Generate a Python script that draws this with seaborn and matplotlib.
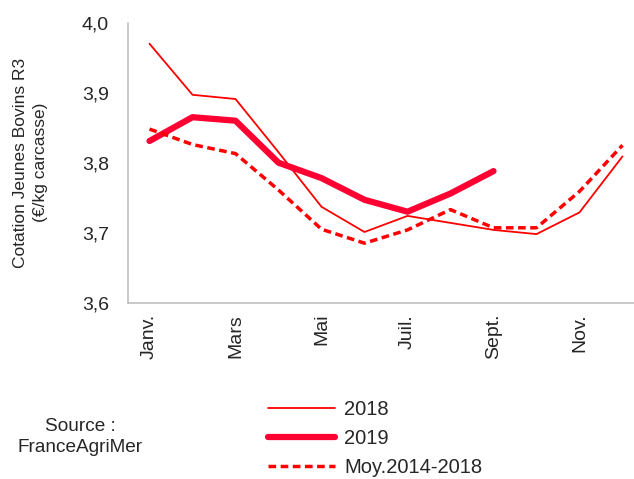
import pandas as pd
import matplotlib
matplotlib.use("Agg")
import matplotlib.pyplot as plt
import seaborn as sns
from matplotlib.ticker import FuncFormatter, FixedLocator
from matplotlib.lines import Line2D

months = ["Janv.", "Févr.", "Mars", "Avr.", "Mai", "Juin",
          "Juil.", "Août", "Sept.", "Oct.", "Nov.", "Déc."]
shown_labels = ["Janv.", "Mars", "Mai", "Juil.", "Sept.", "Nov."]

prix_2018 = [3.970, 3.897, 3.891, 3.815, 3.737, 3.701,
             3.724, 3.714, 3.704, 3.698, 3.729, 3.809]
prix_2019 = [3.831, 3.865, 3.860, 3.800, 3.778, 3.747,
             3.730, 3.756, 3.788]
moy_2014_2018 = [3.848, 3.826, 3.813, 3.761, 3.705, 3.685,
                 3.704, 3.733, 3.707, 3.707, 3.759, 3.825]

sns.set_style("white")
plt.rcParams["font.family"] = ["Liberation Sans", "DejaVu Sans"]

fig = plt.figure(figsize=(6.34, 4.79), dpi=100)
ax = fig.add_axes([128 / 634, 1 - 302.7 / 479, 516 / 634, 280 / 479])

df18 = pd.DataFrame({"x": range(len(prix_2018)), "y": prix_2018})
df19 = pd.DataFrame({"x": range(len(prix_2019)), "y": prix_2019})
dfm = pd.DataFrame({"x": range(len(moy_2014_2018)), "y": moy_2014_2018})

red = "#FF0000"
red19 = "#FF0033"
dash = (0, (2.2, 1.3))
sns.lineplot(data=df18, x="x", y="y", ax=ax, color=red, linewidth=1.3)
sns.lineplot(data=df19, x="x", y="y", ax=ax, color=red19, linewidth=4.5,
             solid_capstyle="round")
sns.lineplot(data=dfm, x="x", y="y", ax=ax, color=red, linewidth=2.5,
             linestyle=dash)

ax.set_xlim(-0.5, 11.5)
ax.set_ylim(3.6, 4.0)
ax.set_yticks([3.6, 3.7, 3.8, 3.9, 4.0])
ax.yaxis.set_major_formatter(FuncFormatter(lambda v, p: f"{v:.1f}".replace(".", ",")))

# tick marks at category boundaries, labels every other month
ax.xaxis.set_major_locator(FixedLocator([i - 0.5 for i in range(13)]))
ax.xaxis.set_major_formatter(FuncFormatter(lambda v, p: ""))
label_pos = [months.index(m) for m in shown_labels]
ax.xaxis.set_minor_locator(FixedLocator(label_pos))
ax.set_xticklabels(shown_labels, minor=True, rotation=90, fontsize=14)
ax.tick_params(axis="x", which="minor", length=0, pad=8)
ax.tick_params(axis="x", which="major", length=5, width=1, color="#C0C0C0", direction="out")
ax.tick_params(axis="y", length=5.8, width=1, color="#C0C0C0", direction="out",
               labelsize=14, pad=8)

for side in ["top", "right"]:
    ax.spines[side].set_visible(False)
for side in ["left", "bottom"]:
    ax.spines[side].set_color("#C0C0C0")
    ax.spines[side].set_linewidth(1.2)

ax.set_xlabel("")
ax.set_ylabel("Cotation Jeunes Bovins R3\n(€/kg carcasse)", fontsize=12.5,
              linespacing=1.4)
ax.yaxis.set_label_coords(-0.155, 0.5)

handles = [
    Line2D([], [], color=red, linewidth=1.3),
    Line2D([], [], color=red19, linewidth=4.5),
    Line2D([], [], color=red, linewidth=2.5, linestyle=dash),
]
fig.legend(handles, ["2018", "2019", "Moy.2014-2018"], loc="upper left",
           bbox_to_anchor=(268 / 634, 1 - 400 / 479), frameon=False,
           fontsize=14.5, handlelength=3.33, handletextpad=0.45,
           labelspacing=0.5, borderpad=0, borderaxespad=0)

fig.text(80 / 634, 1 - 437 / 479, "Source :\nFranceAgriMer", ha="center", va="center",
         fontsize=13.7, linespacing=1.35)

fig.savefig("out.png", dpi=100)
